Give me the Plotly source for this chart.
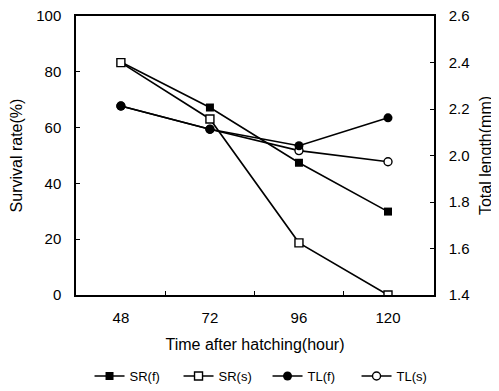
import plotly.graph_objects as go

hours = [48, 72, 96, 120]
sr_f = [83.5, 67.2, 47.4, 29.9]
sr_s = [83.3, 63.1, 18.7, 0]
tl_f = [2.213, 2.113, 2.042, 2.162]
tl_s = [2.213, 2.113, 2.021, 1.973]

font = "Liberation Sans, Arial, sans-serif"
fig = go.Figure()

line = dict(color="black", width=1.6)
fig.add_trace(go.Scatter(x=hours, y=sr_f, name="SR(f)", mode="lines+markers", line=line,
                         marker=dict(symbol="square", size=8, color="black"), legendrank=1))
fig.add_trace(go.Scatter(x=hours, y=sr_s, name="SR(s)", mode="lines+markers", line=line,
                         marker=dict(symbol="square", size=8, color="white", line=dict(color="black", width=1.4)), legendrank=2))
fig.add_trace(go.Scatter(x=hours, y=tl_s, name="TL(s)", mode="lines+markers", line=line, yaxis="y2",
                         marker=dict(symbol="circle", size=8, color="white", line=dict(color="black", width=1.4)), legendrank=4))
fig.add_trace(go.Scatter(x=hours, y=tl_f, name="TL(f)", mode="lines+markers", line=line, yaxis="y2",
                         marker=dict(symbol="circle", size=9, color="black"), legendrank=3))

fig.update_layout(
    width=491, height=383,
    margin=dict(l=68, r=65, t=8, b=96, autoexpand=False),
    paper_bgcolor="white", plot_bgcolor="white",
    font=dict(family=font, size=15, color="black"),
    showlegend=True,
    legend=dict(orientation="h", x=0.535, xanchor="center", yref="container",
                y=-0.01, yanchor="bottom",
                font=dict(size=13), tracegroupgap=0, entrywidth=44, entrywidthmode="pixels"),
    xaxis=dict(range=[35.9, 132.4], tickvals=hours, ticktext=[str(h) for h in hours],
               ticks="", showline=True, linecolor="black", linewidth=1.5, mirror=True,
               showgrid=False, zeroline=False, automargin=False, ticklabelstandoff=8,
               minor=dict(tickvals=[60, 84, 108], ticks="inside", ticklen=4, tickcolor="black", showgrid=False),
               title=dict(text="Time after hatching(hour)", standoff=14, font=dict(size=16))),
    yaxis=dict(range=[0, 100], tickvals=[0, 20, 40, 60, 80, 100], ticks="inside", ticklen=4,
               tickcolor="black", showline=True, linecolor="black", linewidth=1.5,
               showgrid=False, zeroline=False, automargin=False, ticklabelstandoff=10,
               ticklabeloverflow="allow",
               title=dict(text="Survival rate(%)", standoff=12, font=dict(size=16))),
    yaxis2=dict(range=[1.4, 2.6], tickvals=[1.4, 1.6, 1.8, 2.0, 2.2, 2.4, 2.6],
                ticktext=["1.4", "1.6", "1.8", "2.0", "2.2", "2.4", "2.6"],
                overlaying="y", side="right", ticks="inside", ticklen=4, tickcolor="black",
                showline=True, linecolor="black", linewidth=1.5, showgrid=False, zeroline=False,
                automargin=False, ticklabelstandoff=10, ticklabeloverflow="allow",
                title=dict(text="Total length(mm)", standoff=11, font=dict(size=16))),
)

fig.write_html("out.html")
